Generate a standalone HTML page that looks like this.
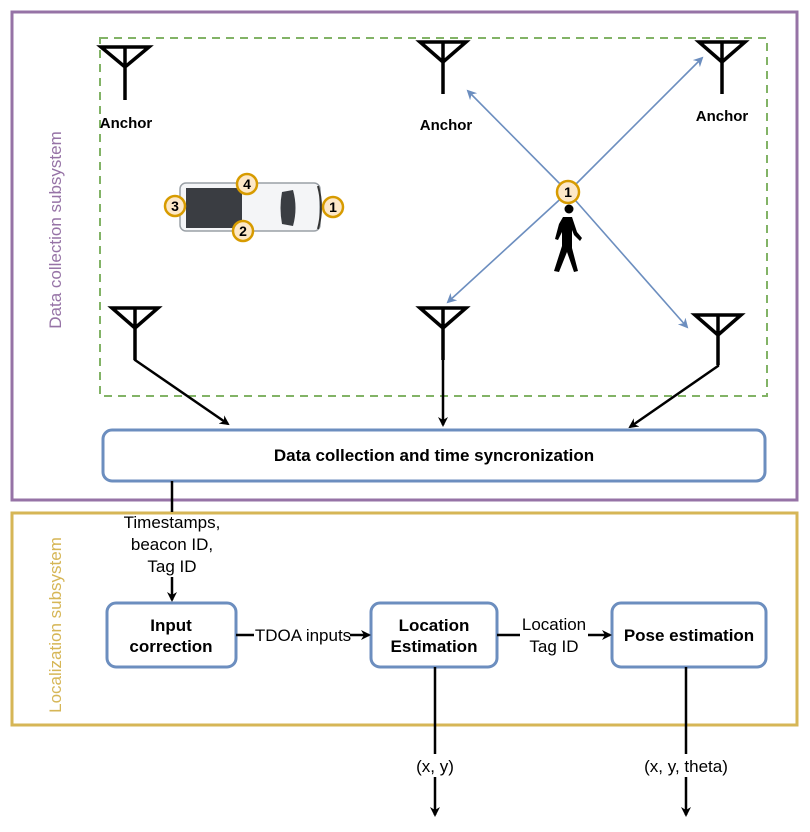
<!DOCTYPE html>
<html><head><meta charset="utf-8"><style>
html,body{margin:0;padding:0;background:#fff;}
svg{display:block;font-family:"Liberation Sans",Arial,sans-serif;}
</style></head><body>
<svg width="810" height="832" viewBox="0 0 810 832" xmlns="http://www.w3.org/2000/svg">
<defs>
<marker id="ab" markerWidth="10" markerHeight="10" refX="8" refY="5" orient="auto" markerUnits="userSpaceOnUse"><path d="M0,0 L10,5 L0,10 L3,5 z" fill="#000"/></marker>
<marker id="abl" markerWidth="10" markerHeight="10" refX="8" refY="5" orient="auto" markerUnits="userSpaceOnUse"><path d="M0,0 L10,5 L0,10 L3,5 z" fill="#6c8ebf"/></marker>
</defs>
<rect x="12" y="12" width="785" height="488" fill="none" stroke="#9673a6" stroke-width="3"/>
<rect x="12" y="513" width="785" height="212" fill="none" stroke="#d6b656" stroke-width="3"/>
<rect x="100" y="38" width="667" height="358" fill="none" stroke="#82b366" stroke-width="2" stroke-dasharray="8,6"/>
<text transform="translate(61,230) rotate(-90)" text-anchor="middle" font-size="17" fill="#9673a6">Data collection subsystem</text>
<text transform="translate(61,625) rotate(-90)" text-anchor="middle" font-size="17" fill="#d6b656">Localization subsystem</text>

<g stroke="#000" stroke-width="3.5" fill="none">
<path d="M101,47 L149,47 L125,67 Z M125,47 V100"/>
<path d="M420,42 L466,42 L443,62 Z M443,42 V94"/>
<path d="M699,42 L745,42 L722,62 Z M722,42 V94"/>
<path d="M112,308 L158,308 L135,328 Z M135,308 V360"/>
<path d="M420,308 L466,308 L443,328 Z M443,308 V360"/>
<path d="M695,315 L741,315 L718,335 Z M718,315 V365"/>
</g>
<g stroke="#000" stroke-width="2.5" fill="none">
<path d="M135,358 V360 L228,424" marker-end="url(#ab)"/>
<path d="M443,358 V425" marker-end="url(#ab)"/>
<path d="M718,362 V366 L630,427" marker-end="url(#ab)"/>
</g>
<g font-size="15" font-weight="bold" text-anchor="middle" fill="#000">
<text x="126" y="128">Anchor</text>
<text x="446" y="130">Anchor</text>
<text x="722" y="121">Anchor</text>
</g>

<g stroke="#6c8ebf" stroke-width="1.6" fill="none">
<line x1="568" y1="192" x2="468" y2="91" marker-end="url(#abl)"/>
<line x1="568" y1="192" x2="702" y2="58" marker-end="url(#abl)"/>
<line x1="568" y1="192" x2="448" y2="302" marker-end="url(#abl)"/>
<line x1="568" y1="192" x2="687" y2="327" marker-end="url(#abl)"/>
</g>
<g fill="#000">
<circle cx="569" cy="209" r="4.5"/>
<path d="M563,217 L572,217 L577,232 L582,238 L580,241 L574,235 L572,230 L572,248 L578,271 L574,272 L567,252 L559,272 L554,271 L562,246 L562,232 L558,240 L555,239 L559,224 Z"/>
</g>

<g>
<rect x="180" y="183" width="140" height="48" rx="6" fill="#f4f5f7" stroke="#9aa0a6" stroke-width="1.5"/>
<rect x="186" y="188" width="56" height="40" fill="#3a3d42"/>
<path d="M282,192 L293,190 Q298,208 293,226 L282,224 Q279,208 282,192 Z" fill="#3a3d42"/>
<path d="M318,186 Q324,207 318,229" stroke="#333" stroke-width="2" fill="none"/>
</g>
<g font-size="14" font-weight="bold" text-anchor="middle">
<g fill="#fde8c8" stroke="#d79b00" stroke-width="2.5">
<circle cx="247" cy="184" r="10"/><circle cx="175" cy="206" r="10"/><circle cx="243" cy="231" r="10"/><circle cx="333" cy="207" r="10"/><circle cx="568" cy="192" r="11"/>
</g>
<text x="247" y="189">4</text><text x="175" y="211">3</text><text x="243" y="236">2</text><text x="333" y="212">1</text><text x="568" y="197">1</text>
</g>

<rect x="103" y="430" width="662" height="51" rx="9" fill="#fff" stroke="#6c8ebf" stroke-width="3"/>
<text x="434" y="461" text-anchor="middle" font-size="17" font-weight="bold">Data collection and time syncronization</text>

<line x1="172" y1="481" x2="172" y2="512" stroke="#000" stroke-width="2.5"/>
<g font-size="17" text-anchor="middle">
<text x="172" y="528">Timestamps,</text>
<text x="172" y="550">beacon ID,</text>
<text x="172" y="572">Tag ID</text>
</g>
<line x1="172" y1="577" x2="172" y2="600" stroke="#000" stroke-width="2.5" marker-end="url(#ab)"/>

<g fill="#fff" stroke="#6c8ebf" stroke-width="3">
<rect x="107" y="603" width="129" height="64" rx="9"/>
<rect x="371" y="603" width="126" height="64" rx="9"/>
<rect x="612" y="603" width="154" height="64" rx="9"/>
</g>
<g font-size="17" font-weight="bold" text-anchor="middle">
<text x="171" y="631">Input</text><text x="171" y="652">correction</text>
<text x="434" y="631">Location</text><text x="434" y="652">Estimation</text>
<text x="689" y="641">Pose estimation</text>
</g>
<g stroke="#000" stroke-width="2.5">
<line x1="236" y1="635" x2="254" y2="635"/>
<line x1="350" y1="635" x2="369" y2="635" marker-end="url(#ab)"/>
<line x1="497" y1="635" x2="520" y2="635"/>
<line x1="588" y1="635" x2="610" y2="635" marker-end="url(#ab)"/>
<line x1="435" y1="667" x2="435" y2="754"/>
<line x1="435" y1="777" x2="435" y2="815" marker-end="url(#ab)"/>
<line x1="686" y1="667" x2="686" y2="754"/>
<line x1="686" y1="777" x2="686" y2="815" marker-end="url(#ab)"/>
</g>
<g font-size="17" text-anchor="middle">
<text x="303" y="641">TDOA inputs</text>
<text x="554" y="630">Location</text><text x="554" y="652">Tag ID</text>
<text x="435" y="772">(x, y)</text>
<text x="686" y="772">(x, y, theta)</text>
</g>
</svg>
</body></html>
